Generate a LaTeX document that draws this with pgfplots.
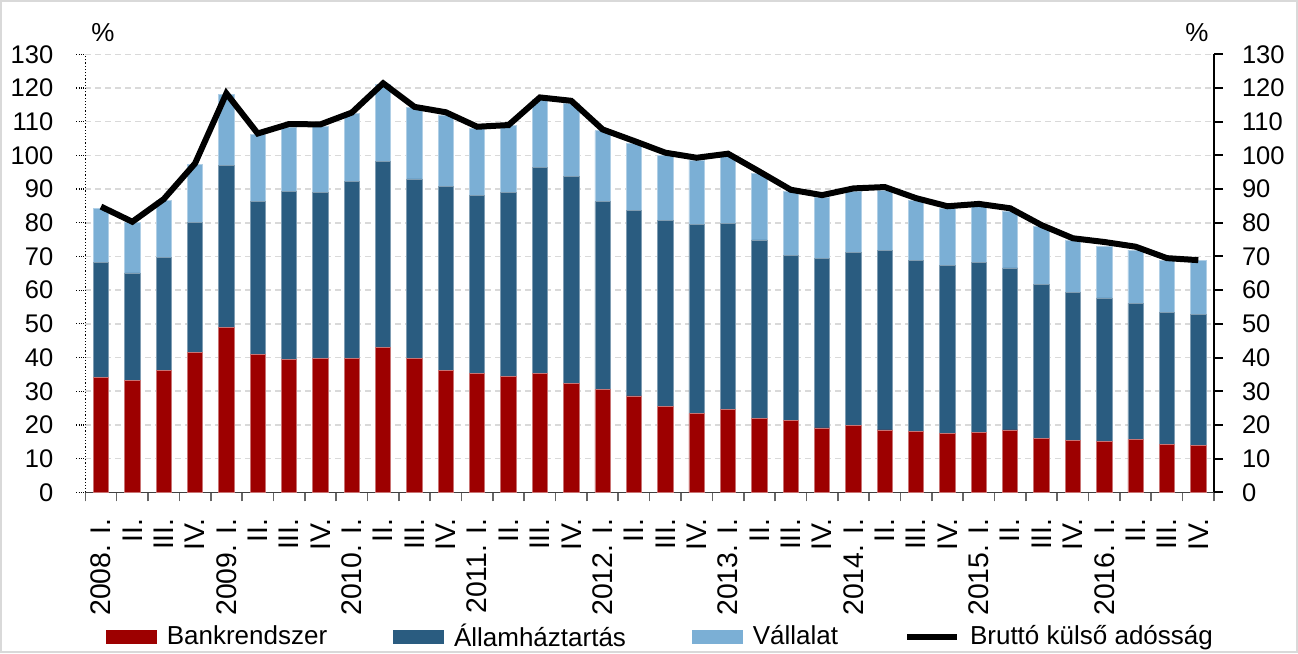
\documentclass[border=0pt]{standalone}
\usepackage{pgfplots}
\pgfplotsset{compat=1.18}
\usepackage{pgfplotstable}
\usepackage{fontspec}
\setmainfont{Liberation Sans}
\definecolor{cRed}{RGB}{157,0,0}
\definecolor{cBlue}{RGB}{42,92,128}
\definecolor{cLight}{RGB}{123,175,213}

\pgfplotstableread{
x red blue light total
0 34.0 34.1 16.1 84.8
1 33.1 32.0 15.1 80.3
2 36.1 33.6 16.9 87.0
3 41.5 38.7 17.2 97.6
4 48.9 48.2 21.1 118.4
5 40.9 45.3 20.0 106.5
6 39.3 50.1 18.9 109.3
7 39.6 49.5 19.6 109.2
8 39.8 52.4 20.3 112.7
9 42.9 55.4 22.8 121.4
10 39.8 53.2 21.1 114.4
11 36.1 54.6 21.3 112.8
12 35.3 52.9 19.8 108.5
13 34.3 54.8 19.8 109.0
14 35.3 61.0 20.3 117.2
15 32.4 61.3 21.7 116.2
16 30.4 55.8 21.1 107.7
17 28.6 55.1 19.9 104.3
18 25.4 55.4 19.3 100.8
19 23.3 56.2 19.1 99.3
20 24.5 55.3 19.8 100.5
21 21.8 53.1 19.8 95.2
22 21.3 49.1 18.8 89.8
23 19.1 50.3 18.1 88.2
24 19.8 51.5 17.9 90.2
25 18.5 53.2 17.8 90.6
26 18.0 50.9 17.8 87.3
27 17.6 49.8 16.9 84.9
28 17.8 50.3 16.7 85.6
29 18.5 48.1 16.7 84.3
30 16.1 45.7 17.0 79.3
31 15.4 44.0 15.5 75.4
32 15.2 42.5 15.4 74.3
33 15.6 40.5 15.8 72.9
34 14.2 39.2 15.5 69.5
35 13.9 38.9 15.9 68.9
}\data

\begin{document}
\begin{tikzpicture}
\draw[gray!30, line width=0.8pt] (-42.25pt,-79.95pt) rectangle (605.95pt,245.75pt);
\begin{axis}[
  at={(0,0)}, anchor=south west, scale only axis,
  width=564.35pt, height=219pt,
  xmin=-0.5, xmax=35.5, ymin=0, ymax=130,
  ybar stacked, bar width=0.49,
  axis x line*=bottom, axis y line*=left,
  x axis line style={black!75, line width=0.8pt},
  y axis line style={black, densely dotted, line width=0.6pt},
  tick align=outside, major tick length=4.5pt,
  ytick={0,10,...,130},
  ytick style={black, densely dotted, line width=0.6pt},
  xtick={-0.5,0.5,...,35.5}, xticklabels={},
  xtick style={black!60, line width=0.8pt},
  extra x ticks={0,1,...,35},
  extra x tick labels={2008. I.,II.,III.,IV.,2009. I.,II.,III.,IV.,2010. I.,II.,III.,IV.,2011. I.,II.,III.,IV.,2012. I.,II.,III.,IV.,2013. I.,II.,III.,IV.,2014. I.,II.,III.,IV.,2015. I.,II.,III.,IV.,2016. I.,II.,III.,IV.},
  extra x tick style={tick style={draw=none}},
  x tick label style={rotate=90, anchor=east, font=\fontsize{14.2}{16}\selectfont},
  xticklabel shift=5pt,
  y tick label style={font=\fontsize{12.75}{15}\selectfont},
  yticklabel shift=8pt,
  /pgf/number format/assume math mode=true,
  ymajorgrids, grid style={gray!30, dash pattern=on 3pt off 2pt, line width=0.8pt},
]
\addplot[fill=cRed, draw=cRed!55!white, line width=0.4pt] table[x=x, y=red] {\data};
\addplot[fill=cBlue, draw=cBlue!60!white, line width=0.4pt] table[x=x, y=blue] {\data};
\addplot[fill=cLight, draw=cLight!60!white, line width=0.4pt] table[x=x, y=light] {\data};
\end{axis}
\begin{axis}[
  at={(0,0)}, anchor=south west, scale only axis,
  width=564.35pt, height=219pt,
  xmin=-0.5, xmax=35.5, ymin=0, ymax=130,
  axis x line=none, axis y line*=right,
  y axis line style={black, line width=1pt},
  tick align=outside, major tick length=4.5pt,
  ytick={0,10,...,130},
  ytick style={black, line width=1pt},
  y tick label style={font=\fontsize{12.75}{15}\selectfont},
  yticklabel shift=6pt,
  /pgf/number format/assume math mode=true,
  legend columns=4,
  legend style={at={(axis description cs:0.018,-0.33)}, anchor=west, draw=none, fill=none,
    font=\fontsize{13}{15}\selectfont, inner sep=0pt,
    /tikz/every odd column/.append style={column sep=3pt},
    /tikz/every even column/.append style={column sep=31pt}},
]
\addlegendimage{legend image code/.code={\fill[cRed] (0pt,-3.25pt) rectangle (25pt,3.25pt);}}
\addlegendentry{Bankrendszer}
\addlegendimage{legend image code/.code={\fill[cBlue] (0pt,-3.25pt) rectangle (25pt,3.25pt);}}
\addlegendentry{Államháztartás}
\addlegendimage{legend image code/.code={\fill[cLight] (0pt,-3.25pt) rectangle (25pt,3.25pt);}}
\addlegendentry{Vállalat}
\addlegendimage{legend image code/.code={\draw[black, line width=3pt] (0pt,0pt) -- (25pt,0pt);}}
\addlegendentry{Bruttó külső adósság}
\addplot[black, line width=3pt, mark=none, forget plot] table[x=x, y=total] {\data};
\end{axis}
\node[font=\fontsize{13}{15}\selectfont] at (8.85pt,229.65pt) {\%};
\node[font=\fontsize{13}{15}\selectfont] at (555.85pt,229.65pt) {\%};
\end{tikzpicture}
\end{document}
